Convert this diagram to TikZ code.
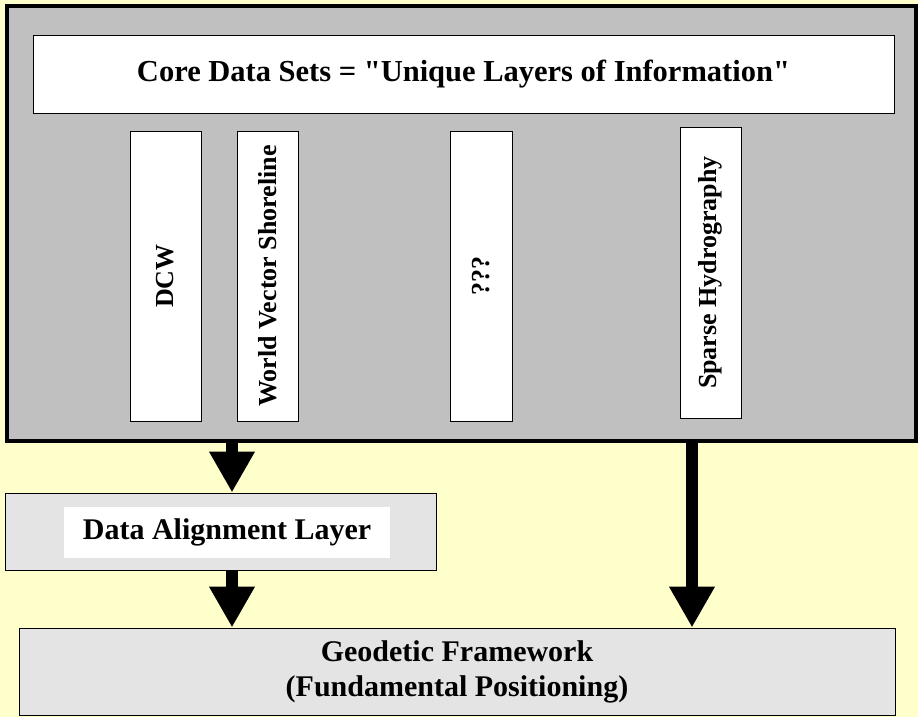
\documentclass[tikz,border=0pt]{standalone}
\usepackage{fontspec}
\setmainfont{Liberation Serif}
\usepackage{tikz}
\usetikzlibrary{arrows.meta,positioning}
\definecolor{bgyellow}{HTML}{FFFFCC}
\definecolor{panelgray}{HTML}{C0C0C0}
\definecolor{stonegray}{HTML}{E4E4E4}
\begin{document}
\begin{tikzpicture}[x=1pt,y=-1pt,>={Triangle[width=43pt,length=41pt]},
	every node/.style={font=\bfseries},
	panel/.style={draw,line width=3.5pt,fill=panelgray},
	layer/.style={draw,line width=1pt,fill=white},
	stone/.style={draw,line width=1pt,fill=stonegray},
	upright/.style={layer,rotate=90,minimum width=290pt,font=\bfseries\fontsize{26}{30}\selectfont}]
	\fill[bgyellow] (0,0) rectangle (918,717);
	\useasboundingbox (0,0) rectangle (918,717);

	\node[panel,minimum width=909pt,minimum height=435pt] (core) at (461.5,223.5) {};
	\node[layer,minimum width=861pt,minimum height=77pt,font=\bfseries\fontsize{30.5}{34}\selectfont] (title) at (463.5,74.5) {Core Data Sets = \textquotedbl Unique Layers of Information\textquotedbl};

	\node[upright,minimum height=71pt] (dcw) at (165.5,276) {DCW};
	\node[upright,minimum height=61pt] (wvs) at (267.5,276) {World Vector Shoreline};
	\node[upright,minimum height=62pt] (unk) at (481,276) {???};
	\node[upright,minimum height=61pt,minimum width=291pt] (hyd) at (710.5,272.5) {Sparse Hydrography};

	\node[stone,minimum width=431pt,minimum height=77pt] (dal) at (220.5,531.5) {};
	\node[fill=white,minimum width=326pt,minimum height=51pt,font=\bfseries\fontsize{30}{34}\selectfont] (dalt) at (227,532.5) {Data Alignment Layer};

	\node[stone,minimum width=876pt,minimum height=87pt,align=center,font=\bfseries\fontsize{30}{35}\selectfont] (geo) at (457,671.5) {Geodetic Framework\\(Fundamental Positioning)};

	\coordinate (sh1) at (232,0);
	\coordinate (sh2) at (692,0);

	\path[->,line width=12pt]
	(core.south -| sh1) edge (dal.north -| sh1)
	(dal.south -| sh1) edge (geo.north -| sh1)
	(core.south -| sh2) edge (geo.north -| sh2)
	;
\end{tikzpicture}
\end{document}
